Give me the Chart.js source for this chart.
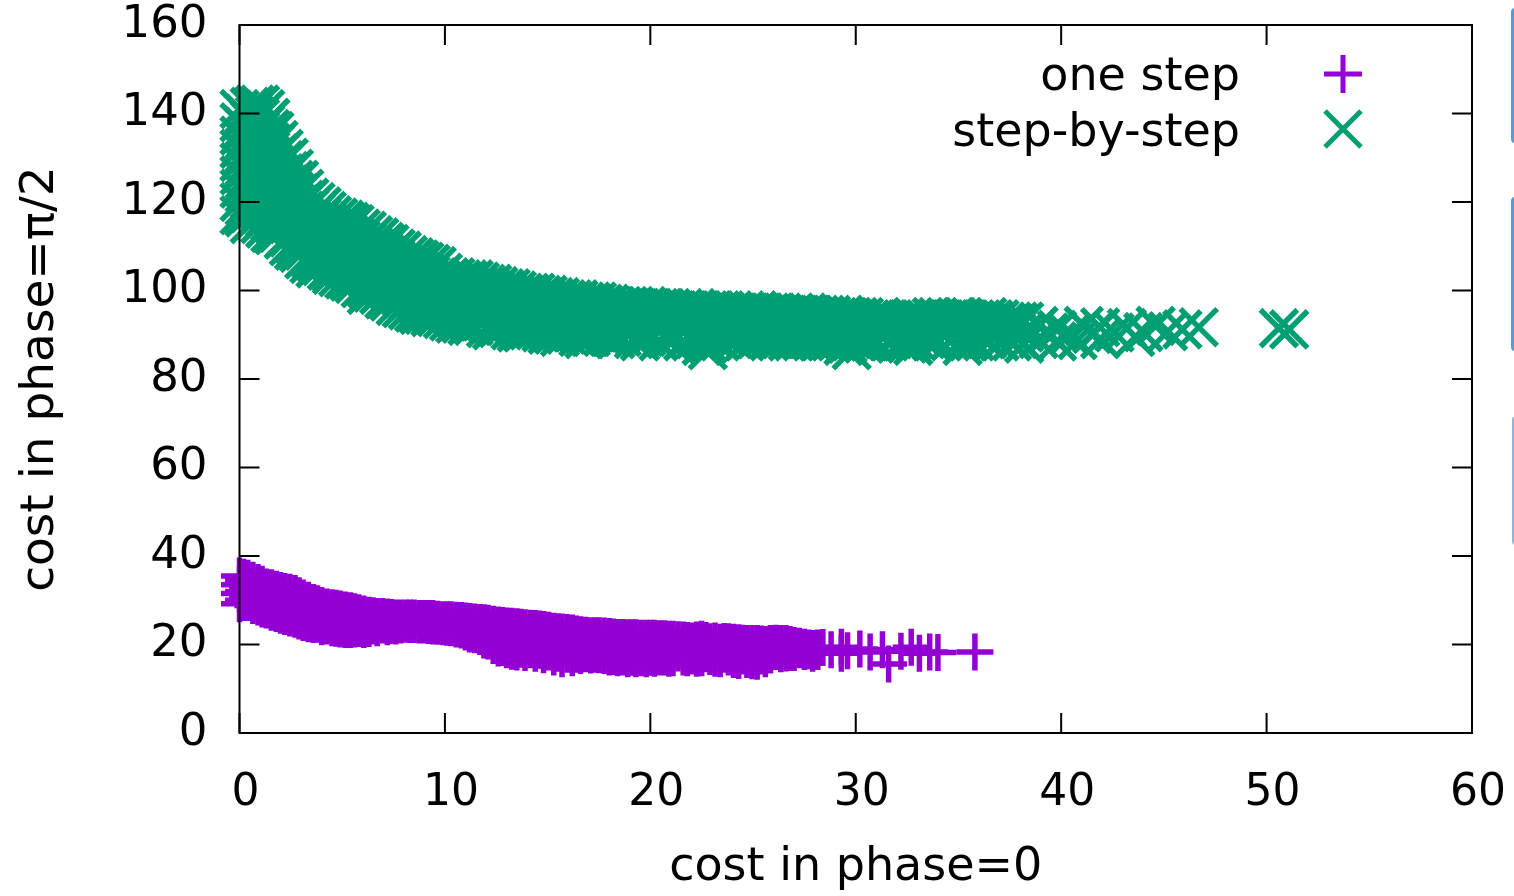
<!DOCTYPE html>
<html>
<head>
<meta charset="utf-8">
<script src="https://cdn.jsdelivr.net/npm/chart.js@4/dist/chart.umd.min.js"></script>
<style>
  html, body { margin: 0; padding: 0; background: #fff; }
  #wrap { position: relative; width: 1514px; height: 896px; overflow: hidden; }
  .edge { position: absolute; border-left: 3px solid #5b9bd5; border-radius: 4px 0 0 4px; width: 10px; }
</style>
</head>
<body>
<div id="wrap">
  <canvas id="c" width="1514" height="896"></canvas>
  <div class="edge" style="left:1511px; top:8px; height:131px; border-top:2px solid #5b9bd5; border-bottom:2px solid #5b9bd5;"></div>
  <div class="edge" style="left:1511px; top:197px; height:150px; border-top:2px solid #5b9bd5; border-bottom:2px solid #5b9bd5;"></div>
  <div class="edge" style="left:1512px; top:416px; height:129px; border-left-width:2px; border-left-color:#8fb4dd;"></div>
</div>
<script>
// axis ticks
const xTicks = [0, 10, 20, 30, 40, 50, 60];
const yTicks = [0, 20, 40, 60, 80, 100, 120, 140, 160];

const seriesNames = ['one step', 'step-by-step'];

// "one step": x positions, and the y values read at each x
const oneStepX = [
  0.0, 0.2, 0.4, 0.65, 0.9, 1.1, 1.3, 1.55, 1.8, 2.0,
  2.2, 2.45, 2.7, 2.9, 3.1, 3.35, 3.6, 3.8, 4.0, 4.25,
  4.5, 4.7, 4.9, 5.15, 5.4, 5.6, 5.8, 6.05, 6.3, 6.5,
  6.7, 6.95, 7.2, 7.4, 7.6, 7.85, 8.1, 8.3, 8.5, 8.75,
  9.0, 9.2, 9.4, 9.65, 9.9, 10.1, 10.3, 10.55, 10.8, 11.0,
  11.2, 11.45, 11.7, 11.9, 12.1, 12.35, 12.6, 12.8, 13.0, 13.25,
  13.5, 13.7, 13.9, 14.15, 14.4, 14.6, 14.8, 15.05, 15.3, 15.5,
  15.7, 15.95, 16.2, 16.4, 16.6, 16.85, 17.1, 17.3, 17.5, 17.75,
  18.0, 18.2, 18.4, 18.65, 18.9, 19.1, 19.3, 19.55, 19.8, 20.0,
  20.2, 20.45, 20.7, 20.9, 21.1, 21.35, 21.6, 21.8, 22.0, 22.25,
  22.5, 22.7, 22.9, 23.15, 23.4, 23.6, 23.8, 24.05, 24.3, 24.5,
  24.7, 24.95, 25.2, 25.4, 25.6, 25.85, 26.1, 26.35, 26.6, 26.8,
  27.0, 27.25, 27.5, 27.7, 27.9, 28.15, 28.4, 28.8, 29.3, 29.6,
  30.2, 30.7, 31.3, 31.6, 32.2, 32.7, 33.1, 33.6, 34.0, 35.8
];
const oneStepY = [
  [35.5, 33.5, 31.5, 29.2], [35.2, 34, 32, 30, 29.5], [35, 33, 31, 29.5], [34.5, 33.5, 31.5, 29.5, 28.8],
  [34, 32, 30, 28.5], [33.6, 32.5, 30.5, 29, 28], [33, 31, 29, 27.8], [32.8, 31.5, 29.5, 28, 27.3],
  [32.5, 30.5, 28.5, 27], [32.2, 31, 29, 27.2, 26.6],
  [32, 30, 28, 26.3], [31.8, 30.5, 28.5, 26.8, 26], [31.5, 29.5, 27.5, 25.7], [31, 30, 28, 26.2, 25.3],
  [30.5, 28.5, 26.5, 25], [30, 29, 27, 25.2, 24.7], [29.5, 27.5, 25.5, 24.5], [29.2, 28.2, 26.3, 24.6],
  [28.8, 27, 25, 24], [28.5, 27.5, 25.6, 24.2],
  [28.3, 26.5, 24.5, 23.8], [28.2, 27.2, 25.3, 23.7], [28, 26, 24, 23.5], [27.8, 26.8, 24.8, 23.4],
  [27.6, 25.8, 24, 23.4], [27.4, 26.5, 24.6, 23.5], [27.2, 25.5, 23.6], [26.9, 26, 24.2, 23.4],
  [26.6, 25, 23.6], [26.5, 25.5, 24.2],
  [26.3, 24.8, 23.8], [26.3, 25.4, 24.4], [26.2, 24.6, 24], [26.1, 25.2, 24.3],
  [26, 24.5, 24.2], [26, 25.2, 24.4], [26, 24.6], [26, 25.2, 24.5], [26, 24.5], [25.9, 25, 24.4],
  [25.9, 24.4], [25.9, 25, 24.3], [25.9, 24.2], [25.7, 24.8, 24.1], [25.6, 24], [25.6, 24.7, 23.9],
  [25.6, 23.8], [25.5, 24.5, 23.5], [25.4, 23.3], [25.3, 24.2, 22.8],
  [25.2, 23, 22.4], [25.1, 24, 22.2], [25, 23.2, 21.8], [24.9, 23.8, 21.6, 21],
  [24.8, 22.8, 20.8], [24.6, 23.5, 21.5, 19.8], [24.4, 22.5, 20.5, 19.2], [24.3, 23.2, 21.3, 19.3],
  [24.2, 22.2, 20.2, 18.8], [24.1, 23, 21, 19.2, 18.5],
  [24, 22, 20, 18.3], [23.9, 22.8, 20.8, 18.9], [23.8, 21.8, 19.8, 18.2], [23.7, 22.6, 20.6, 18.8],
  [23.6, 21.7, 19.8, 18], [23.5, 22.4, 20.5, 18.7], [23.4, 21.5, 19.5, 17.7], [23.2, 22.2, 20.2, 18.3],
  [23, 21.2, 19.2, 17.2], [22.9, 22, 20, 18],
  [22.8, 21, 19, 16.8], [22.7, 21.8, 19.8, 17.8], [22.6, 20.8, 18.8, 17], [22.4, 21.5, 19.6, 17.8],
  [22.2, 20.5, 18.6, 17.5], [22.1, 21.2, 19.4, 17.9], [22, 20.2, 18.4, 17.6], [22, 21, 19.2, 17.8],
  [22, 20, 18.2, 17.7], [21.9, 20.9, 19, 17.5],
  [21.8, 20, 18, 17.2], [21.7, 20.8, 18.9, 17.3], [21.6, 19.8, 17.8, 17], [21.6, 20.6, 18.7, 17.2],
  [21.5, 19.6, 17.6, 16.8], [21.5, 20.5, 18.6, 17.1], [21.5, 19.5, 17.5, 16.8], [21.4, 20.4, 18.5, 17],
  [21.4, 19.4, 17.4, 16.8], [21.4, 20.3, 18.4, 17.1],
  [21.4, 19.3, 17.3, 16.9], [21.3, 20.2, 18.3, 17.2], [21.3, 19.2, 17.2], [21.2, 20.1, 18.2, 16.9],
  [21.2, 19.2, 17], [21.1, 20, 18.1], [21.0, 19, 17.2], [20.9, 19.9, 18, 17], [20.8, 19, 17.4],
  [21, 20, 18.1, 16.9],
  [21.2, 19.2, 17], [20.9, 19.8, 17.9], [20.6, 18.8, 17.3], [20.8, 19.6, 17.8, 16.9],
  [20.5, 18.6, 16.8], [20.7, 19.6, 17.8], [20.6, 18.8, 17.2], [20.5, 19.4, 17.5, 16.6],
  [20.4, 18.4, 16.4], [20.3, 19.3, 17.4],
  [20.2, 18.4, 16.6], [20.2, 19.2, 17.3, 16.3], [20.2, 18.2, 16.2], [20.1, 19.1, 17.4],
  [20.0, 18.2, 16.8], [20.2, 19.2, 17.6], [20.3, 18.4], [20.2, 19.3, 17.9], [20.2, 18.1], [20, 19.1, 18.2],
  [19.8, 18.2], [19.6, 18.8], [19.4, 18.4], [19.2, 18.6], [19.1, 18], [19.2, 18.4],
  [19.3], [18.8], [19.4, 18], [18.6],
  [19], [18.3], [18.8], [15.6], [18.5], [19.4], [18], [18.3], [18.2], [18.3]
];

// "step-by-step": x positions, and the y values read at each x
const stepX = [
  0.0, 0.25, 0.5, 0.75, 1.0, 1.25, 1.5, 1.7, 1.9, 2.15,
  2.4, 2.65, 2.9, 3.15, 3.4, 3.7, 4.0, 4.25, 4.5, 4.8,
  5.1, 5.35, 5.6, 5.9, 6.2, 6.5, 6.8, 7.05, 7.3, 7.6,
  7.9, 8.2, 8.5, 8.75, 9.0, 9.3, 9.6, 9.9, 10.2, 10.5,
  10.8, 11.1, 11.4, 11.7, 12.0, 12.3, 12.6, 12.9, 13.2, 13.5,
  13.8, 14.1, 14.4, 14.7, 15.0, 15.3, 15.6, 15.9, 16.2, 16.5,
  16.8, 17.1, 17.4, 17.7, 18.0, 18.3, 18.6, 18.9, 19.2, 19.5,
  19.8, 20.1, 20.4, 20.7, 21.0, 21.3, 21.6, 21.9, 22.2, 22.5,
  22.8, 23.1, 23.4, 23.7, 24.0, 24.3, 24.6, 24.9, 25.2, 25.5,
  25.8, 26.1, 26.4, 26.7, 27.0, 27.3, 27.6, 27.9, 28.2, 28.5,
  28.8, 29.1, 29.4, 29.6, 29.8, 30.1, 30.4, 30.7, 31.0, 31.3,
  31.6, 31.9, 32.2, 32.5, 32.8, 33.1, 33.4, 33.7, 34.0, 34.3,
  34.6, 34.9, 35.2, 35.5, 35.8, 36.1, 36.4, 36.7, 37.0, 37.3,
  37.6, 37.9, 38.2, 38.9, 39.4, 39.8, 40.4, 40.8, 41.1, 41.5,
  41.9, 42.6, 43.2, 43.6, 44.0, 44.6, 45.2, 45.9, 46.7, 50.6,
  51.1
];
const stepY = [
  [141, 138, 135, 132, 129, 126, 123, 120, 117],
  [140, 137, 134, 131, 128, 125, 122, 119, 116.5],
  [141.5, 138.5, 135.5, 132.5, 129.5, 126.5, 123.5, 120.5, 117.5, 115],
  [142, 139.5, 136.5, 133.5, 130.5, 127.5, 124.5, 121.5, 118.5, 116],
  [142, 139, 136, 133, 130, 127, 124, 121, 118, 115],
  [141, 137.5, 134.5, 131.5, 128.5, 125.5, 122.5, 119.5, 116.5, 114],
  [139, 136.5, 133.5, 130.5, 127.5, 124.5, 121.5, 118.5, 115.5, 113],
  [136, 133, 130, 127, 124, 121, 118, 115, 112.5],
  [134, 131, 128, 125, 122, 119, 116, 113],
  [132, 129.5, 126.5, 123.5, 120.5, 117.5, 114.5, 111.5],
  [130, 127, 124, 121, 118, 115, 112, 110],
  [127.5, 125, 122.5, 119.5, 116.5, 113.5, 110.5, 109],
  [125, 122, 119.5, 117, 114, 111, 108.5],
  [123, 120.5, 118, 115, 112, 109, 107],
  [121, 118.5, 116, 113, 110.5, 107.5, 106],
  [120, 117.5, 114.5, 112, 109, 106.5, 105],
  [119, 116.5, 113.5, 111, 108, 105.5],
  [118, 115.5, 112.5, 110, 107, 104.5],
  [117, 114.5, 112, 109, 106.5, 104, 103.5],
  [116.5, 114, 111, 108.5, 105.5, 103],
  [116, 113.5, 110.5, 108, 105, 102.5],
  [115.5, 112.5, 110, 107, 104.5, 102],
  [115, 112, 109.5, 107, 104, 101.5],
  [114, 111.5, 108.5, 106, 103, 100.5],
  [113.5, 111, 108, 105.5, 103, 100.5, 99],
  [112.5, 110, 107.5, 104.5, 102, 99.5],
  [112, 109.5, 107, 104, 101.5, 99],
  [111, 108.5, 106, 103, 100.5, 98],
  [110.5, 108, 105, 102.5, 100, 97.5],
  [109.5, 107, 104.5, 101.5, 99, 96.5],
  [109, 106.5, 104, 101, 98.5, 96],
  [108, 105.5, 103, 100.5, 97.5, 95.5],
  [107.5, 105, 102, 99.5, 97, 95],
  [107, 104.5, 101.5, 99, 96.5, 94.5],
  [106.5, 104, 101.5, 98.5, 96, 94.5],
  [106, 103.5, 100.5, 97.5, 95, 94],
  [105.5, 103, 100.5, 98, 95.5, 94],
  [104, 101.5, 99, 96.5, 93.5],
  [103, 100.5, 98, 95.5, 93],
  [103, 101.5, 99, 96.5, 94, 92.5],
  [102.5, 100, 97.5, 95, 92.5],
  [102.5, 101, 98.5, 96, 93.5, 92],
  [102.5, 99.5, 97, 94.5, 92],
  [102, 100.5, 98, 95.5, 93],
  [101.5, 99, 96.5, 94, 91.5],
  [101.5, 100, 97.5, 95, 92.5, 91],
  [101, 98.5, 96, 93.5, 91.5],
  [100.5, 99.5, 97, 94.5, 92],
  [100.5, 98, 95.5, 93, 91],
  [100, 98.5, 96, 93.5, 91.5, 90.5],
  [99.5, 97, 94.5, 92, 90.5],
  [99.5, 98, 95.5, 93, 91],
  [99.5, 97, 94.5, 92, 91],
  [99, 97.5, 95, 92.5, 90.5],
  [99, 96.5, 94, 91.5, 90],
  [98.5, 97, 94.5, 92, 90],
  [98.5, 96, 93.5, 91, 89.5],
  [98, 96.5, 94, 91.5, 90],
  [98, 95.5, 93, 90.5],
  [98, 96.5, 94, 91.5, 89.5],
  [97.5, 95, 92.5, 90, 89],
  [97.5, 96, 93.5, 91, 89.5],
  [97.5, 95, 92.5, 90.5],
  [97, 96, 93.5, 91, 89.5],
  [97, 94.5, 92, 89.5],
  [96.5, 95.5, 93, 90.5, 89],
  [96.5, 94, 91.5, 89.5],
  [96.5, 95, 92.5, 90.5],
  [96.5, 94, 91.5, 89],
  [96, 95, 92.5, 90, 88.5],
  [96.5, 94, 91.5, 89.5],
  [96, 95, 92.5, 90],
  [96, 93.5, 91, 88.5],
  [96, 94.5, 92, 89.5],
  [96, 93.5, 91, 89],
  [95.5, 94.5, 92, 89.5],
  [96, 93.5, 91, 88.5],
  [95.5, 94.5, 92, 89.5],
  [96, 93.5, 91, 89],
  [95.5, 94, 91.5, 89, 87.5],
  [95.5, 93, 90.5, 88, 86.5],
  [95.5, 94, 91.5, 89],
  [95.5, 93, 90.5, 88.5],
  [95, 94, 91.5, 89.5],
  [95.5, 93, 90.5, 89],
  [95, 94, 91.5, 89.5],
  [95.5, 93, 90.5, 88.5],
  [95, 94, 91.5, 89.5],
  [95.5, 93, 90.5, 89],
  [95, 93.5, 91, 89.5],
  [95, 92.5, 90, 88.5],
  [95, 93.5, 91, 89],
  [95, 92.5, 90, 89],
  [94.5, 93.5, 91, 88.5],
  [95, 92.5, 90, 88.5],
  [94.5, 93.5, 91, 89],
  [95, 92.5, 90, 89],
  [94.5, 93, 90.5, 88.5],
  [94.5, 92, 89.5, 88.5],
  [94.5, 93, 90.5, 89],
  [94.5, 92, 89.5, 88.5],
  [94, 93, 90.5, 88.5],
  [94.5, 92, 89.5, 87.5],
  [94, 93, 90.5, 88],
  [94, 91.5, 89, 86.5],
  [94, 92.5, 90, 88.5],
  [94, 91.5, 89, 88],
  [93.5, 92.5, 90, 88.5],
  [93.5, 91, 88.5],
  [93.5, 92, 89.5],
  [93.5, 91, 88.5],
  [93, 92, 89.5],
  [93, 90.5, 88.5],
  [93.5, 92, 89.5, 88],
  [94, 91.5, 89, 87.5],
  [93.5, 92, 90],
  [93.5, 91, 89],
  [94, 92.5, 90, 88.5],
  [94, 91.5, 89],
  [93.5, 92.5, 90],
  [93.5, 91, 88.5],
  [94, 92.5, 90],
  [94, 91.5, 89, 87.5],
  [93.5, 92.5, 90, 88.5],
  [93.5, 91, 88.5],
  [93.5, 92.5, 90],
  [94, 91.5, 89],
  [93.5, 92, 89.5],
  [93.5, 91, 88.5],
  [93, 92, 89.5],
  [93, 90.5, 88.5],
  [93, 91.5, 89],
  [93, 90.5, 88],
  [92, 89],
  [90.5],
  [91.1, 88.5],
  [90],
  [88.8],
  [92],
  [90.2],
  [91.7, 89],
  [90.5],
  [91.5],
  [89.5],
  [90.6],
  [92],
  [90.8],
  [91.2],
  [91.7],
  [91.5],
  [91.2]
];

const PURPLE = '#9400d3';
const GREEN = '#009e73';
const FONT = 'DejaVu Sans';
const PLOT_TOP = 25;

function toPoints(xs, ys) {
  const pts = [];
  xs.forEach((x, i) => ys[i].forEach(y => pts.push({ x: x, y: y })));
  return pts;
}

// keep the plot box top where gnuplot had it, whatever label padding the layout reserved
const pinTopPlugin = {
  id: 'pinTop',
  afterLayout(chart) {
    const a = chart.chartArea;
    const y = chart.scales.y;
    if (a.top !== PLOT_TOP) {
      a.top = PLOT_TOP;
      a.height = a.bottom - a.top;
      y.top = PLOT_TOP;
      y.height = y.bottom - y.top;
      y.configure();
    }
  }
};

// gnuplot style frame: border and inward ticks on all four sides, drawn over the points
const framePlugin = {
  id: 'frame',
  afterDatasetsDraw(chart) {
    const { ctx, chartArea: a, scales } = chart;
    const len = 20;
    ctx.save();
    ctx.strokeStyle = '#000';
    ctx.lineWidth = 2;
    ctx.strokeRect(a.left, a.top, a.right - a.left, a.bottom - a.top);
    ctx.beginPath();
    xTicks.forEach(v => {
      const px = scales.x.getPixelForValue(v);
      ctx.moveTo(px, a.bottom); ctx.lineTo(px, a.bottom - len);
      ctx.moveTo(px, a.top); ctx.lineTo(px, a.top + len);
    });
    yTicks.forEach(v => {
      const py = scales.y.getPixelForValue(v);
      ctx.moveTo(a.left, py); ctx.lineTo(a.left + len, py);
      ctx.moveTo(a.right, py); ctx.lineTo(a.right - len, py);
    });
    ctx.stroke();
    ctx.restore();
  }
};

// key in the top right corner: text right aligned, sample marker to its right
const keyPlugin = {
  id: 'key',
  afterDatasetsDraw(chart) {
    const ctx = chart.ctx;
    const textRight = 1240, markX = 1343, rows = [76, 132];
    ctx.save();
    ctx.font = '46px "' + FONT + '"';
    ctx.fillStyle = '#000';
    ctx.textAlign = 'right';
    ctx.textBaseline = 'middle';
    chart.data.datasets.forEach((ds, i) => {
      const y = rows[i];
      ctx.fillText(ds.label, textRight, y + 2);
      ctx.strokeStyle = ds.borderColor;
      ctx.lineWidth = 5;
      ctx.beginPath();
      if (ds.pointStyle === 'cross') {
        ctx.moveTo(markX - 19, y - 2); ctx.lineTo(markX + 19, y - 2);
        ctx.moveTo(markX, y - 21); ctx.lineTo(markX, y + 17);
      } else {
        ctx.moveTo(markX - 18, y - 21); ctx.lineTo(markX + 18, y + 15);
        ctx.moveTo(markX - 18, y + 15); ctx.lineTo(markX + 18, y - 21);
      }
      ctx.stroke();
    });
    ctx.restore();
  }
};

new Chart(document.getElementById('c'), {
  type: 'scatter',
  data: {
    datasets: [
      {
        label: seriesNames[0],
        data: toPoints(oneStepX, oneStepY),
        pointStyle: 'cross',
        pointRadius: 18.5,
        borderWidth: 5.5,
        borderColor: PURPLE,
        backgroundColor: PURPLE,
        clip: false
      },
      {
        label: seriesNames[1],
        data: toPoints(stepX, stepY),
        pointStyle: 'crossRot',
        pointRadius: 26,
        borderWidth: 5.5,
        borderColor: GREEN,
        backgroundColor: GREEN,
        clip: false
      }
    ]
  },
  options: {
    responsive: false,
    animation: false,
    events: [],
    layout: { padding: { top: PLOT_TOP, right: 42, left: 0, bottom: 0 } },
    plugins: { legend: { display: false }, tooltip: { enabled: false } },
    scales: {
      x: {
        type: 'linear',
        min: 0,
        max: 60,
        afterBuildTicks: s => { s.ticks = xTicks.map(v => ({ value: v })); },
        ticks: { color: '#000', font: { family: FONT, size: 44 }, padding: 34, labelOffset: 6, maxRotation: 0 },
        grid: { display: false, drawTicks: false },
        border: { display: false },
        title: {
          display: true,
          text: 'cost in phase=0',
          color: '#000',
          font: { family: FONT, size: 46 },
          padding: { top: 0, bottom: 0 }
        },
        afterFit: s => { s.height = 163; s.paddingLeft = 0; s.paddingRight = 0; }
      },
      y: {
        type: 'linear',
        min: 0,
        max: 160,
        afterBuildTicks: s => { s.ticks = yTicks.map(v => ({ value: v })); },
        ticks: { color: '#000', font: { family: FONT, size: 45 }, padding: 32 },
        grid: { display: false, drawTicks: false },
        border: { display: false },
        title: {
          display: true,
          text: 'cost in phase=π/2',
          color: '#000',
          font: { family: FONT, size: 47 },
          padding: { top: 13, bottom: 0 }
        },
        afterFit: s => { s.width = 239.5; s.paddingTop = 0; s.paddingBottom = 0; }
      }
    }
  },
  plugins: [pinTopPlugin, framePlugin, keyPlugin]
});
</script>
</body>
</html>
